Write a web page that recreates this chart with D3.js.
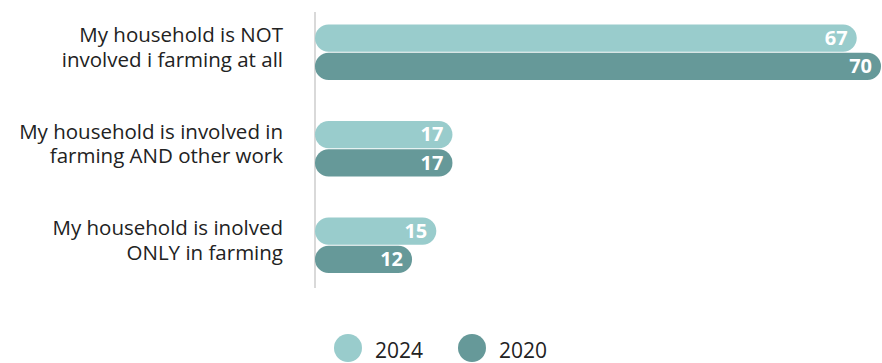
<!DOCTYPE html>
<html>
<head>
<meta charset="utf-8">
<script src="https://cdn.jsdelivr.net/npm/d3@7"></script>
<style>
  html, body { margin: 0; padding: 0; background: #fff; }
  svg { display: block; font-family: "Open Sans", sans-serif; }
</style>
</head>
<body>
<svg id="chart" width="882" height="363"></svg>
<script>
// Household involvement in farming, share of respondents (%)
const categories = [
  ["My household is NOT", "involved i farming at all"],
  ["My household is involved in", "farming AND other work"],
  ["My household is inolved", "ONLY in farming"]
];
const seriesNames = ["2024", "2020"];
const values2024 = [67, 17, 15];
const values2020 = [70, 17, 12];
const seriesColors = ["#99cccc", "#669999"];

const svg = d3.select("#chart");
const x0 = 315;

const x = d3.scaleLinear().domain([0, 70]).range([x0, 881]);
const y = d3.scaleBand().domain(d3.range(categories.length)).range([24.5, 273]).paddingInner(0.425).paddingOuter(0);
const ySub = d3.scaleBand().domain(seriesNames).range([0, y.bandwidth()]).paddingInner(0.04);

// baseline
svg.append("line")
  .attr("x1", x0).attr("x2", x0)
  .attr("y1", 12).attr("y2", 288)
  .attr("stroke", "#cccccc").attr("stroke-width", 1.5);

const rows = categories.map((c, i) => ({ label: c, vals: [values2024[i], values2020[i]] }));

const g = svg.selectAll("g.row").data(rows).join("g")
  .attr("class", "row")
  .attr("transform", (d, i) => `translate(0,${y(i)})`);

// category labels
g.append("text")
  .attr("text-anchor", "end")
  .attr("fill", "#222")
  .attr("font-size", 20.5)
  .selectAll("tspan").data(d => d.label).join("tspan")
  .attr("x", 283)
  .attr("y", (d, j) => y.bandwidth() / 2 - 10 + j * 24.4)
  .text(d => d);

// bars
const bars = g.selectAll("g.bar")
  .data(d => d.vals.map((v, k) => ({ v, k })))
  .join("g").attr("class", "bar");

bars.append("rect")
  .attr("x", x0)
  .attr("y", d => ySub(seriesNames[d.k]))
  .attr("width", d => x(d.v) - x0)
  .attr("height", ySub.bandwidth())
  .attr("rx", ySub.bandwidth() / 2)
  .attr("fill", d => seriesColors[d.k]);

bars.append("text")
  .attr("x", d => x(d.v) - 9)
  .attr("y", d => ySub(seriesNames[d.k]) + ySub.bandwidth() / 2)
  .attr("dy", "0.34em")
  .attr("text-anchor", "end")
  .attr("fill", "#fff")
  .attr("font-weight", 700)
  .attr("font-size", 20)
  .text(d => d.v);

// legend
const legendX = [348, 472];
const legend = svg.selectAll("g.legend").data(seriesNames).join("g")
  .attr("class", "legend")
  .attr("transform", (d, i) => `translate(${legendX[i]},348)`);
legend.append("circle").attr("r", 14).attr("fill", (d, i) => seriesColors[i]);
legend.append("text")
  .attr("x", 27).attr("y", 10)
  .attr("font-size", 21).attr("fill", "#222")
  .text(d => d);
</script>
</body>
</html>
